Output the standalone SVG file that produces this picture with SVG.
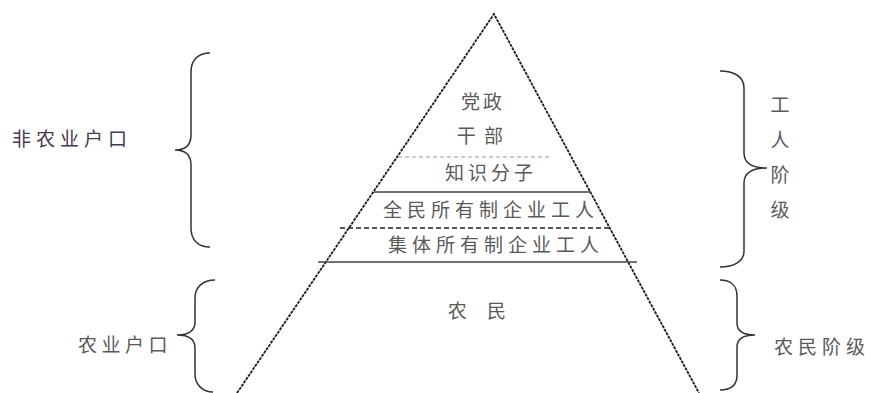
<svg xmlns="http://www.w3.org/2000/svg" width="871" height="393" viewBox="0 0 871 393">
<style>
text{font-family:"Noto Sans CJK SC","Noto Sans CJK JP",sans-serif;font-size:19px;fill:#5a5a5a;dominant-baseline:central;text-anchor:middle}
.tri{fill:none;stroke:#1a1a1a;stroke-width:1.8;stroke-dasharray:3 1}
.brace{fill:none;stroke:#333;stroke-width:1.5}
.solid{stroke:#444;stroke-width:1.5}
.dash{stroke:#222;stroke-width:1.5;stroke-dasharray:5 3}
.ldash{stroke:#999;stroke-width:1;stroke-dasharray:4 3}
</style>
<rect width="871" height="393" fill="#fff"/>
<g id="pyramid">
<polyline class="tri" points="237,393 494,14 699,393"/>
<line class="ldash" x1="398" y1="157" x2="552" y2="157"/>
<line class="solid" x1="374" y1="192" x2="591" y2="192"/>
<line class="dash" x1="340" y1="228" x2="611" y2="228"/>
<line class="solid" x1="318" y1="262" x2="637" y2="262"/>
</g>
<g id="cadre"><text x="483" y="100" style="letter-spacing:3px">党政</text><text x="481" y="134" style="letter-spacing:2px">干 部</text></g>
<g id="intellectual"><text x="491" y="171" style="letter-spacing:4px">知识分子</text></g>
<g id="state-workers"><text x="491" y="208" style="letter-spacing:5px">全民所有制企业工人</text></g>
<g id="collective-workers"><text x="496" y="243" style="letter-spacing:5px">集体所有制企业工人</text></g>
<g id="peasants"><text x="481" y="309" style="letter-spacing:8px">农 民</text></g>
<g id="connectors">
<path class="brace" d="M210,53 C198,53 191,60 191,72 L191,135 C191,145 185,150 175,150 C185,150 191,155 191,165 L191,228 C191,240 198,247 210,247"/>
<path class="brace" d="M215,280 C203,280 195,287 195,298 L195,322 C195,331 188,335 177,335 C188,335 195,339 195,348 L195,374 C195,385 203,392 213,392"/>
<path class="brace" d="M720,71 C733,71 744,76 744,88 L744,153 C744,163 752,168 767,168 C752,168 744,173 744,183 L744,251 C744,262 733,267 720,267"/>
<path class="brace" d="M720,280 C731,280 737,286 737,296 L737,323 C737,331 743,335 755,335 C743,335 737,339 737,347 L737,375 C737,385 731,390 720,390"/>
</g>
<g id="non-agri"><text x="72" y="137" style="fill:#4a3852;letter-spacing:5px">非农业户口</text></g>
<g id="agri"><text x="125" y="343" style="letter-spacing:4.5px">农业户口</text></g>
<g id="working-class"><text x="780" y="103">工</text><text x="780" y="138">人</text><text x="780" y="173">阶</text><text x="780" y="208">级</text></g>
<g id="peasant-class"><text x="822" y="345" style="letter-spacing:5px">农民阶级</text></g>
</svg>
